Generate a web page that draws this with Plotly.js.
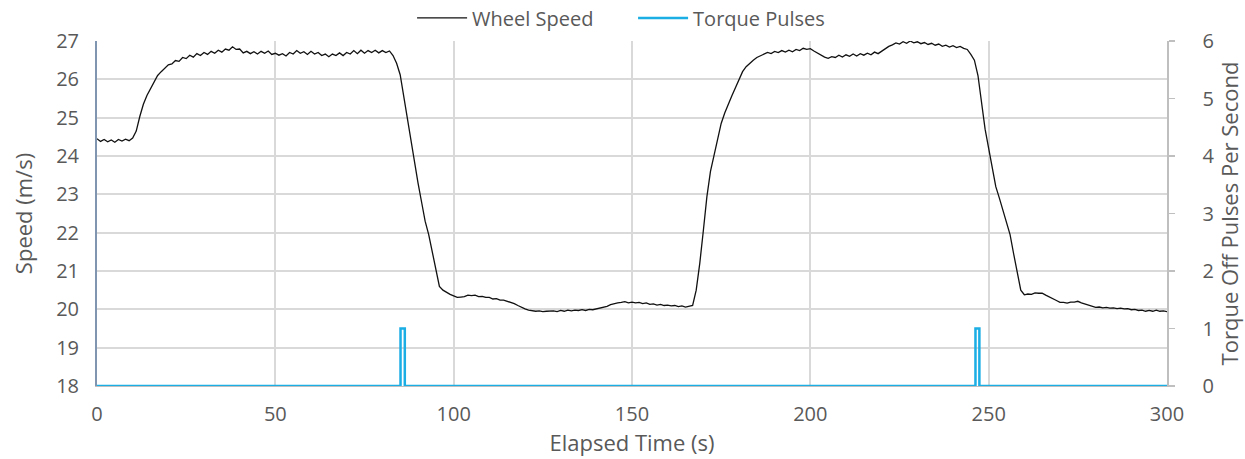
<!DOCTYPE html>
<html>
<head>
<meta charset="utf-8">
<script src="https://cdn.plot.ly/plotly-3.0.1.min.js"></script>
<style>html,body{margin:0;padding:0;background:#fff}#chart{width:1245px;height:459px}</style>
</head>
<body>
<div id="chart"></div>
<script>
// Elapsed time (s), one reading per second, 0..300
const timeSec = Array.from({length: 301}, (_, i) => i);
// Wheel speed (m/s)
const wheelSpeed = [
24.45,24.38,24.43,24.37,24.42,24.36,24.43,24.39,24.44,24.40,
24.47,24.65,25.03,25.35,25.58,25.76,25.95,26.10,26.20,26.30,
26.38,26.40,26.49,26.47,26.57,26.54,26.63,26.58,26.67,26.62,
26.70,26.65,26.73,26.68,26.76,26.71,26.79,26.76,26.85,26.78,
26.79,26.69,26.73,26.67,26.72,26.66,26.73,26.68,26.74,26.65,
26.68,26.63,26.67,26.61,26.70,26.66,26.75,26.68,26.72,26.65,
26.73,26.66,26.70,26.62,26.66,26.59,26.66,26.62,26.69,26.62,
26.70,26.66,26.75,26.67,26.76,26.68,26.75,26.70,26.76,26.69,
26.75,26.70,26.74,26.62,26.42,26.12,25.55,25.00,24.35,23.80,
23.30,22.80,22.30,21.95,21.50,21.00,20.60,20.50,20.44,20.39,
20.35,20.31,20.32,20.33,20.37,20.36,20.37,20.33,20.34,20.31,
20.31,20.27,20.28,20.24,20.24,20.21,20.20,20.15,20.10,20.05,
20.01,19.98,19.97,19.95,19.96,19.94,19.95,19.95,19.96,19.94,
19.97,19.95,19.98,19.96,19.98,19.97,19.99,19.97,20.00,19.99,
20.01,20.03,20.05,20.08,20.12,20.15,20.17,20.18,20.20,20.17,
20.19,20.17,20.18,20.15,20.17,20.13,20.14,20.11,20.13,20.10,
20.11,20.09,20.10,20.07,20.09,20.06,20.08,20.10,20.50,21.20,
22.05,22.94,23.60,24.02,24.40,24.85,25.12,25.37,25.57,25.78,
26.00,26.20,26.33,26.42,26.50,26.57,26.62,26.66,26.70,26.67,
26.73,26.70,26.75,26.71,26.76,26.72,26.78,26.75,26.81,26.78,
26.80,26.74,26.68,26.62,26.58,26.55,26.59,26.57,26.63,26.58,
26.64,26.60,26.66,26.61,26.67,26.63,26.68,26.64,26.71,26.67,
26.74,26.80,26.86,26.90,26.95,26.92,26.98,26.94,27.00,26.95,
26.98,26.93,26.96,26.91,26.94,26.89,26.92,26.86,26.89,26.84,
26.88,26.83,26.86,26.81,26.78,26.65,26.50,26.10,25.40,24.70,
24.20,23.65,23.20,22.90,22.60,22.25,21.95,21.45,20.95,20.50,
20.38,20.40,20.39,20.43,20.42,20.42,20.37,20.33,20.27,20.23,
20.18,20.18,20.16,20.19,20.19,20.21,20.17,20.14,20.10,20.08,
20.05,20.06,20.04,20.05,20.03,20.04,20.02,20.03,20.01,20.02,
19.99,20.00,19.97,19.98,19.95,19.97,19.95,19.98,19.95,19.96,
19.94
];
// Torque-off pulses (pulses per second), step series
const pulseTime = [0, 85.1, 85.1, 86.3, 86.3, 246.3, 246.3, 247.4, 247.4, 300];
const pulseValue = [0, 0, 1, 1, 0, 0, 1, 1, 0, 0];

const font = "'Open Sans', 'Noto Sans', sans-serif";
const grey = '#595959';

const traces = [
  {x: timeSec, y: wheelSpeed, type: 'scatter', mode: 'lines', name: 'Wheel Speed',
   line: {color: '#111111', width: 1.3}, yaxis: 'y'},
  {x: pulseTime, y: pulseValue, type: 'scatter', mode: 'lines', name: 'Torque Pulses',
   line: {color: '#1aaee5', width: 2.5}, yaxis: 'y2'}
];

const layout = {
  width: 1245, height: 459,
  margin: {l: 97, r: 78, t: 41, b: 73, autoexpand: false},
  paper_bgcolor: '#ffffff', plot_bgcolor: '#ffffff',
  font: {family: font, color: grey, size: 20},
  showlegend: true,
  legend: {orientation: 'h', xref: 'container', yref: 'container',
           x: 0.5085, xanchor: 'center', y: 0.961, yanchor: 'middle',
           itemwidth: 50, entrywidth: 156,
           font: {family: font, size: 20, color: grey}, bgcolor: 'rgba(0,0,0,0)'},
  xaxis: {
    range: [0, 300], dtick: 50, tick0: 0,
    showgrid: true, gridcolor: '#d9d9d9', gridwidth: 2,
    zeroline: false, showline: true, linecolor: '#bfbfbf', linewidth: 1,
    ticks: '', ticklabelstandoff: 10, tickfont: {size: 20, color: grey},
    title: {text: 'Elapsed Time (s)', font: {size: 22, color: grey}, standoff: 0}
  },
  yaxis: {
    range: [18, 27], dtick: 1, tick0: 18,
    showgrid: true, gridcolor: '#d9d9d9', gridwidth: 2,
    zeroline: false, showline: true, linecolor: '#8096b0', linewidth: 2,
    ticks: '', ticklabelstandoff: 12, tickfont: {size: 20, color: grey},
    title: {text: 'Speed (m/s)', font: {size: 22, color: grey}, standoff: 17}
  },
  yaxis2: {
    overlaying: 'y', side: 'right', range: [0, 6], dtick: 1, tick0: 0,
    showgrid: false, zeroline: false, showline: true, linecolor: '#bfbfbf', linewidth: 1.5,
    ticks: 'outside', ticklen: 6, tickcolor: '#bfbfbf', tickwidth: 1.5,
    ticklabelstandoff: 24, tickfont: {size: 20, color: grey},
    title: {text: 'Torque Off Pulses Per Second', font: {size: 22, color: grey}, standoff: 0}
  }
};

Plotly.newPlot('chart', traces, layout, {displayModeBar: false, staticPlot: true});
</script>
</body>
</html>
